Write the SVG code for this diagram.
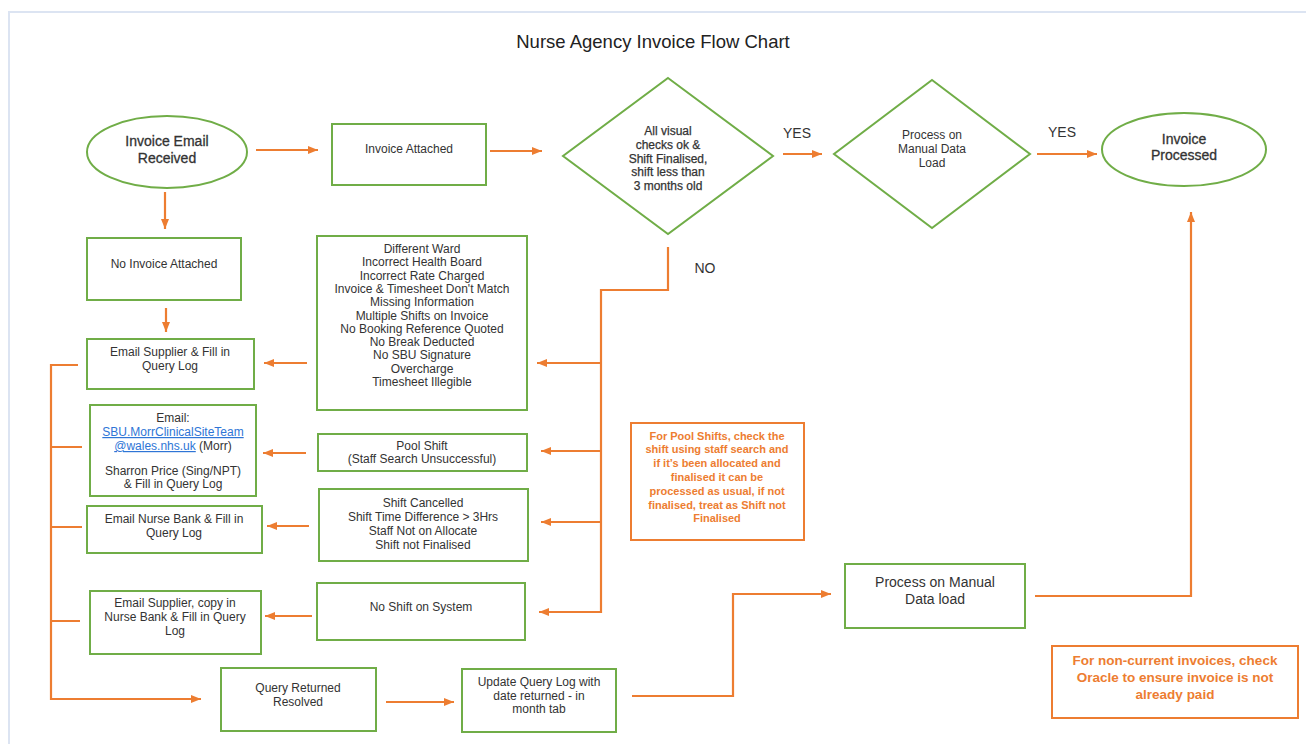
<svg xmlns="http://www.w3.org/2000/svg" width="1306" height="744" viewBox="0 0 1306 744">
<style>
text{font-family:"Liberation Sans",Arial,sans-serif;fill:#333;text-anchor:middle}
.t{font-size:12px}
.s{font-size:12px;stroke:#333;stroke-width:0.25}
.b{font-size:14px;stroke:#333;stroke-width:0.3}
.lab{font-size:14px;fill:#333}
.n1{font-size:11px;font-weight:bold;fill:#ed7d31}
.n2{font-size:13.5px;font-weight:bold;fill:#ed7d31}
.node{fill:#fff;stroke:#70ad47;stroke-width:2}
.note{fill:#fff;stroke:#ed7d31;stroke-width:2}
.c{fill:none;stroke:#ed7d31;stroke-width:2.2}
.a{marker-end:url(#ah)}
.link{fill:#2e75d6;text-decoration:underline}
</style>
<defs>
<marker id="ah" viewBox="0 0 10 8" refX="10" refY="4" markerWidth="10" markerHeight="8" markerUnits="userSpaceOnUse" orient="auto">
<path d="M0,0 L10,4 L0,8 z" fill="#ed7d31"/>
</marker>
</defs>
<rect width="1306" height="744" fill="#fff"/>
<path d="M9,744 V12 H1306" fill="none" stroke="#dce4f2" stroke-width="2"/>
<text x="653" y="48" style="font-size:18.5px;fill:#222">Nurse Agency Invoice Flow Chart</text>

<g id="connectors">
<path class="c a" d="M256,150 H318"/>
<path class="c a" d="M490,151 H542"/>
<path class="c a" d="M783,154 H822"/>
<path class="c a" d="M1037,154 H1097"/>
<path class="c a" d="M165,192 V229"/>
<path class="c a" d="M166,308 V332"/>
<path class="c a" d="M668,247 V290 H601 V612 H539"/>
<path class="c a" d="M601,363 H537"/>
<path class="c a" d="M601,451 H541"/>
<path class="c a" d="M601,522 H541"/>
<path class="c a" d="M307,363 H264"/>
<path class="c a" d="M306,453 H263"/>
<path class="c a" d="M309,526 H267"/>
<path class="c a" d="M312,616 H265"/>
<path class="c a" d="M78,365 H51 V699 H201"/>
<path class="c" d="M51,447 H82 M51,527 H82 M51,621 H80"/>
<path class="c a" d="M386,702 H454"/>
<path class="c a" d="M632,696 H733 V594 H831"/>
<path class="c a" d="M1035,596 H1191 V212"/>
<text class="lab" x="797" y="138">YES</text>
<text class="lab" x="1062" y="137">YES</text>
<text class="lab" x="705" y="273">NO</text>
</g>

<g id="invoice-email-received">
<ellipse class="node" cx="167" cy="152" rx="80" ry="36"/>
<text class="b" x="167" y="146">Invoice Email</text>
<text class="b" x="167" y="163">Received</text>
</g>

<g id="invoice-attached">
<rect class="node" x="332" y="124" width="154" height="61"/>
<text class="t" x="409" y="153">Invoice Attached</text>
</g>

<g id="visual-checks">
<polygon class="node" points="668,78 773,156 668,234 563,156"/>
<text class="s" x="668" y="135">All visual</text>
<text class="s" x="668" y="149">checks ok &amp;</text>
<text class="s" x="668" y="163">Shift Finalised,</text>
<text class="s" x="668" y="176">shift less than</text>
<text class="s" x="668" y="190">3 months old</text>
</g>

<g id="process-manual-diamond">
<polygon class="node" points="932,80 1030,154 932,228 834,154"/>
<text class="t" x="932" y="139">Process on</text>
<text class="t" x="932" y="153">Manual Data</text>
<text class="t" x="932" y="167">Load</text>
</g>

<g id="invoice-processed">
<ellipse class="node" cx="1184" cy="149.5" rx="82" ry="36.5"/>
<text class="b" x="1184" y="144">Invoice</text>
<text class="b" x="1184" y="160">Processed</text>
</g>

<g id="no-invoice-attached">
<rect class="node" x="87" y="238" width="154" height="62"/>
<text class="t" x="164" y="268">No Invoice Attached</text>
</g>

<g id="query-reasons">
<rect class="node" x="317" y="236" width="210" height="174"/>
<text class="t" x="422" y="253">Different Ward</text>
<text class="t" x="422" y="266.3">Incorrect Health Board</text>
<text class="t" x="422" y="279.6">Incorrect Rate Charged</text>
<text class="t" x="422" y="292.9">Invoice &amp; Timesheet Don't Match</text>
<text class="t" x="422" y="306.2">Missing Information</text>
<text class="t" x="422" y="319.5">Multiple Shifts on Invoice</text>
<text class="t" x="422" y="332.8">No Booking Reference Quoted</text>
<text class="t" x="422" y="346.1">No Break Deducted</text>
<text class="t" x="422" y="359.4">No SBU Signature</text>
<text class="t" x="422" y="372.7">Overcharge</text>
<text class="t" x="422" y="386">Timesheet Illegible</text>
</g>

<g id="email-supplier">
<rect class="node" x="87" y="339" width="167" height="50"/>
<text class="t" x="170" y="356">Email Supplier &amp; Fill in</text>
<text class="t" x="170" y="370">Query Log</text>
</g>

<g id="email-site-team">
<rect class="node" x="90" y="405" width="166" height="91"/>
<text class="t" x="173" y="422">Email:</text>
<text class="t" x="173" y="436"><tspan class="link">SBU.MorrClinicalSiteTeam</tspan></text>
<text class="t" x="173" y="450"><tspan class="link">@wales.nhs.uk</tspan> (Morr)</text>
<text class="t" x="173" y="475">Sharron Price (Sing/NPT)</text>
<text class="t" x="173" y="488">&amp; Fill in Query Log</text>
</g>

<g id="email-nurse-bank">
<rect class="node" x="87" y="506" width="175" height="47"/>
<text class="t" x="174" y="523">Email Nurse Bank &amp; Fill in</text>
<text class="t" x="174" y="537">Query Log</text>
</g>

<g id="pool-shift">
<rect class="node" x="318" y="434" width="209" height="37"/>
<text class="t" x="422" y="450">Pool Shift</text>
<text class="t" x="422" y="463">(Staff Search Unsuccessful)</text>
</g>

<g id="shift-cancelled">
<rect class="node" x="319" y="489" width="209" height="72"/>
<text class="t" x="423" y="507">Shift Cancelled</text>
<text class="t" x="423" y="521">Shift Time Difference &gt; 3Hrs</text>
<text class="t" x="423" y="535">Staff Not on Allocate</text>
<text class="t" x="423" y="549">Shift not Finalised</text>
</g>

<g id="pool-note">
<rect class="note" x="631" y="423" width="173" height="117"/>
<text class="n1" x="717" y="440">For Pool Shifts, check the</text>
<text class="n1" x="717" y="453">shift using staff search and</text>
<text class="n1" x="717" y="467">if it’s been allocated and</text>
<text class="n1" x="717" y="481">finalised it can be</text>
<text class="n1" x="717" y="495">processed as usual, if not</text>
<text class="n1" x="717" y="509">finalised, treat as Shift not</text>
<text class="n1" x="717" y="522">Finalised</text>
</g>

<g id="no-shift-on-system">
<rect class="node" x="317" y="583" width="208" height="57"/>
<text class="t" x="421" y="611">No Shift on System</text>
</g>

<g id="email-supplier-copy">
<rect class="node" x="90" y="591" width="171" height="63"/>
<text class="t" x="175" y="607">Email Supplier, copy in</text>
<text class="t" x="175" y="621">Nurse Bank &amp; Fill in Query</text>
<text class="t" x="175" y="635">Log</text>
</g>

<g id="query-returned">
<rect class="node" x="221" y="668" width="155" height="63"/>
<text class="t" x="298" y="692">Query Returned</text>
<text class="t" x="298" y="706">Resolved</text>
</g>

<g id="update-query-log">
<rect class="node" x="462" y="669" width="154" height="63"/>
<text class="t" x="539" y="686">Update Query Log with</text>
<text class="t" x="539" y="700">date returned - in</text>
<text class="t" x="539" y="713">month tab</text>
</g>

<g id="process-manual-box">
<rect class="node" x="845" y="564" width="180" height="64"/>
<text class="b" x="935" y="587" style="stroke-width:0">Process on Manual</text>
<text class="b" x="935" y="604" style="stroke-width:0">Data load</text>
</g>

<g id="non-current-note">
<rect class="note" x="1052" y="646" width="246" height="72"/>
<text class="n2" x="1175" y="665">For non-current invoices, check</text>
<text class="n2" x="1175" y="682">Oracle to ensure invoice is not</text>
<text class="n2" x="1175" y="699">already paid</text>
</g>
</svg>
